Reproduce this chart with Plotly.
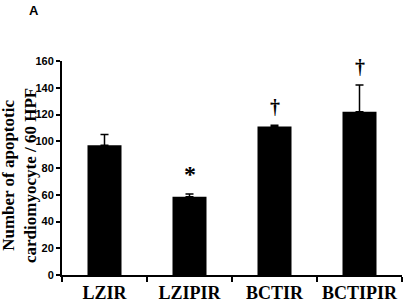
import plotly.graph_objects as go

categories = ["LZIR", "LZIPIR", "BCTIR", "BCTIPIR"]
values = [97, 58.5, 111, 122]
errors = [8, 2, 1, 20]
markers = ["", "*", "†", "†"]
ytick_vals = [0, 20, 40, 60, 80, 100, 120, 140, 160]

W, H = 404, 305
L, R, T, B = 62, 2, 61, 30
PW, PH = W - L - R, H - T - B


def px(sx):
    return (sx - L) / PW


def py(sy):
    return 1 - (sy - T) / PH


fig = go.Figure()
fig.add_trace(go.Bar(
    x=categories, y=values, width=0.4,
    marker=dict(color="black", line=dict(width=0)),
    error_y=dict(type="data", array=errors, arrayminus=[0] * len(errors),
                 symmetric=False, color="black", thickness=1.5, width=4),
))

for c, v, e, m in zip(categories, values, errors, markers):
    if m:
        fig.add_annotation(x=c, y=v + e, text="<b>%s</b>" % m, showarrow=False,
                           yanchor="bottom", yshift=5,
                           font=dict(family="Liberation Serif", size=24 if m == "*" else 20,
                                     color="black"))

# panel label
fig.add_annotation(x=px(34), y=py(10), xref="paper", yref="paper",
                   xanchor="center", yanchor="middle", showarrow=False,
                   text="<b>A</b>", font=dict(family="Liberation Sans", size=13, color="black"))

# y-axis title
fig.add_annotation(x=px(19), y=py(176), xref="paper", yref="paper",
                   xanchor="center", yanchor="middle", showarrow=False, textangle=-90,
                   text="<b>Number of apoptotic<br>cardiomyocyte / 60 HPF</b>",
                   font=dict(family="Liberation Serif", size=17, color="black"))

fig.update_layout(
    width=W, height=H,
    margin=dict(l=L, r=R, t=T, b=B),
    plot_bgcolor="white", paper_bgcolor="white",
    showlegend=False,
    xaxis=dict(
        type="category", range=[-0.5, 3.5], automargin=False, tickangle=0,
        showline=True, linecolor="black", linewidth=2,
        ticks="outside", tickson="boundaries", ticklen=5, tickwidth=1.5, tickcolor="black",
        tickfont=dict(family="Liberation Serif", size=18, color="black"),
        ticktext=["<b>%s</b>" % c for c in categories], tickvals=categories,
        showgrid=False, zeroline=False,
    ),
    yaxis=dict(
        range=[0, 160], tickvals=ytick_vals, automargin=False,
        ticktext=["<b>%d</b>" % v for v in ytick_vals],
        showline=True, linecolor="black", linewidth=2,
        ticks="outside", ticklen=4, tickwidth=1.5, tickcolor="black",
        tickfont=dict(family="Liberation Sans", size=11, color="black"),
        showgrid=False, zeroline=False,
    ),
)

fig.write_html("out.html", config={"displayModeBar": False},
               post_script="document.body.style.margin='0';")
